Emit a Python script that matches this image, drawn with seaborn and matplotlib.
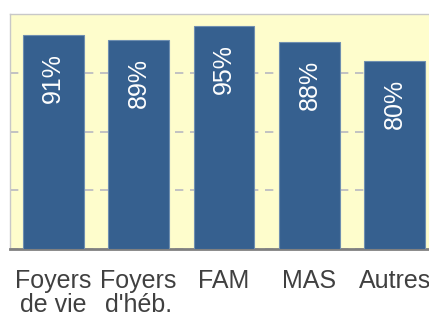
import numpy as np
import pandas as pd
from matplotlib import pyplot as plt
import seaborn as sns

categories = ["Foyers\nde vie", "Foyers\nd'héb.", "FAM", "MAS", "Autres"]
values = [91, 89, 95, 88, 80]
labels = ["91%", "89%", "95%", "88%", "80%"]

sns.set_style("white")
plt.rcParams['font.family'] = ['Liberation Sans', 'DejaVu Sans']

df = pd.DataFrame({"cat": categories, "val": values})

fig = plt.figure(figsize=(4.29, 3.19), dpi=100)
ax = fig.add_axes([10 / 429, 70 / 319, 428 / 429, 235 / 319])
ax.set_facecolor("#fefdcc")

sns.barplot(data=df, x="cat", y="val", color="#36608f", width=0.71,
            saturation=1, edgecolor="#6f8fb0", linewidth=0.8, ax=ax, zorder=3)

ax.set_ylim(0, 100)
ax.set_xlim(-0.506, 4.506)
ax.set_yticks([0, 25, 50, 75, 100])
ax.yaxis.grid(True, color="#b8b8c0", linestyle=(0, (5, 4)), linewidth=1.2, zorder=1)
ax.set_axisbelow(True)
ax.tick_params(axis="y", left=False, labelleft=False)
ax.tick_params(axis="x", bottom=False, labelsize=18, labelcolor="#404040", pad=11)
ax.set_xlabel("")
ax.set_ylabel("")
for lab in ax.get_xticklabels():
    lab.set_linespacing(1.0)

for side in ["left", "top", "right"]:
    ax.spines[side].set_color("#c8c8c8")
    ax.spines[side].set_linewidth(1)
ax.spines["bottom"].set_color("#808080")
ax.spines["bottom"].set_linewidth(2)

for i, (v, t) in enumerate(zip(values, labels)):
    ax.annotate(t, (i, v), xytext=(0, -13), textcoords="offset points",
                rotation=90, ha="center", va="top", color="white", fontsize=18)

fig.savefig("out.png", dpi=100)
